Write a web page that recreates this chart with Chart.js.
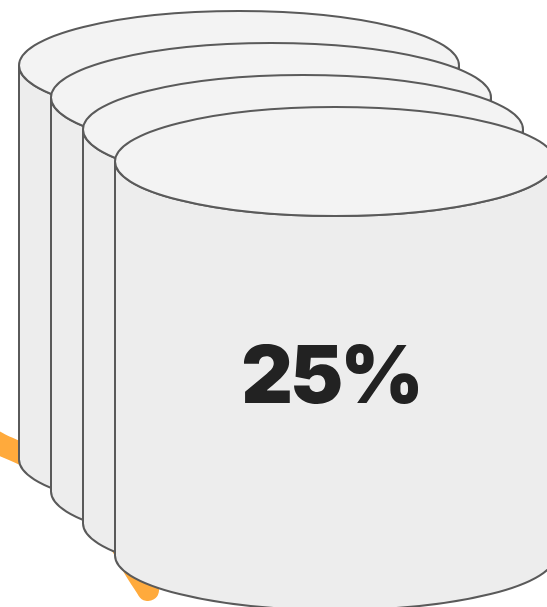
<!DOCTYPE html>
<html>
<head>
<meta charset="utf-8">
<script src="https://cdn.jsdelivr.net/npm/chart.js@4"></script>
<style>
  html, body { margin: 0; padding: 0; background: #fff; }
  #wrap { width: 547px; height: 607px; }
</style>
</head>
<body>
<div id="wrap"><canvas id="stackChart"></canvas></div>
<script>
// data
const layerNames = ["Layer 1", "Layer 2", "Layer 3", "Layer 4"];
const shareValue = 25; // percent shown on the front cylinder
const trendX = [-20, 0, 30, 60, 90, 118, 134, 148];
const trendY = [433, 444, 458, 479, 506, 540, 568, 590];

const trendPoints = trendX.map((x, i) => ({ x: x, y: trendY[i] }));

// draws the stacked cylinders over the datasets, using the chart scales
const cylinderPlugin = {
    id: "cylinders",
    afterDatasetsDraw(chart, args, opts) {
        const ctx = chart.ctx;
        const xs = chart.scales.x, ys = chart.scales.y;
        layerNames.forEach((name, i) => {
            const left = opts.left + i * opts.step;
            const cyVal = opts.top + i * opts.step;
            const cx = xs.getPixelForValue(left + opts.rx);
            const rx = xs.getPixelForValue(left + 2 * opts.rx) - cx;
            const cy = ys.getPixelForValue(cyVal);
            const ry = ys.getPixelForValue(cyVal + opts.ry) - cy;
            const cyb = ys.getPixelForValue(cyVal + opts.height);

            ctx.save();
            ctx.lineWidth = 2;
            ctx.strokeStyle = "#5a5a5a";

            // side
            ctx.beginPath();
            ctx.moveTo(cx - rx, cy);
            ctx.lineTo(cx - rx, cyb);
            ctx.ellipse(cx, cyb, rx, ry, 0, Math.PI, 0, true);
            ctx.lineTo(cx + rx, cy);
            ctx.ellipse(cx, cy, rx, ry, 0, 0, Math.PI, false);
            ctx.closePath();
            ctx.fillStyle = "#ededed";
            ctx.fill();
            ctx.stroke();

            // top
            ctx.beginPath();
            ctx.ellipse(cx, cy, rx, ry, 0, 0, Math.PI * 2);
            ctx.fillStyle = "#f3f3f3";
            ctx.fill();
            ctx.stroke();

            if (i === layerNames.length - 1) {
                ctx.fillStyle = "#222222";
                ctx.font = "900 80px Inter, 'DejaVu Sans', sans-serif";
                ctx.letterSpacing = "-3px";
                ctx.textAlign = "center";
                ctx.textBaseline = "alphabetic";
                ctx.fillText(shareValue + "%", xs.getPixelForValue(opts.labelX), ys.getPixelForValue(opts.labelY));
            }
            ctx.restore();
        });
    }
};

new Chart(document.getElementById("stackChart"), {
    type: "scatter",
    data: {
        datasets: [{
            label: "Trend",
            data: trendPoints,
            showLine: true,
            tension: 0.3,
            borderColor: "#ffaa3c",
            borderWidth: 22,
            borderCapStyle: "round",
            borderJoinStyle: "round",
            pointRadius: 0,
            clip: false
        }]
    },
    options: {
        responsive: true,
        maintainAspectRatio: false,
        animation: false,
        layout: { padding: 0 },
        plugins: {
            legend: { display: false },
            tooltip: { enabled: false },
            cylinders: { left: 19, top: 65.5, step: 32, rx: 220, ry: 54.5, height: 394, labelX: 331, labelY: 403 }
        },
        scales: {
            x: { type: "linear", min: 0, max: 547, display: false },
            y: { type: "linear", min: 0, max: 607, reverse: true, display: false }
        }
    },
    plugins: [cylinderPlugin]
});
</script>
</body>
</html>
